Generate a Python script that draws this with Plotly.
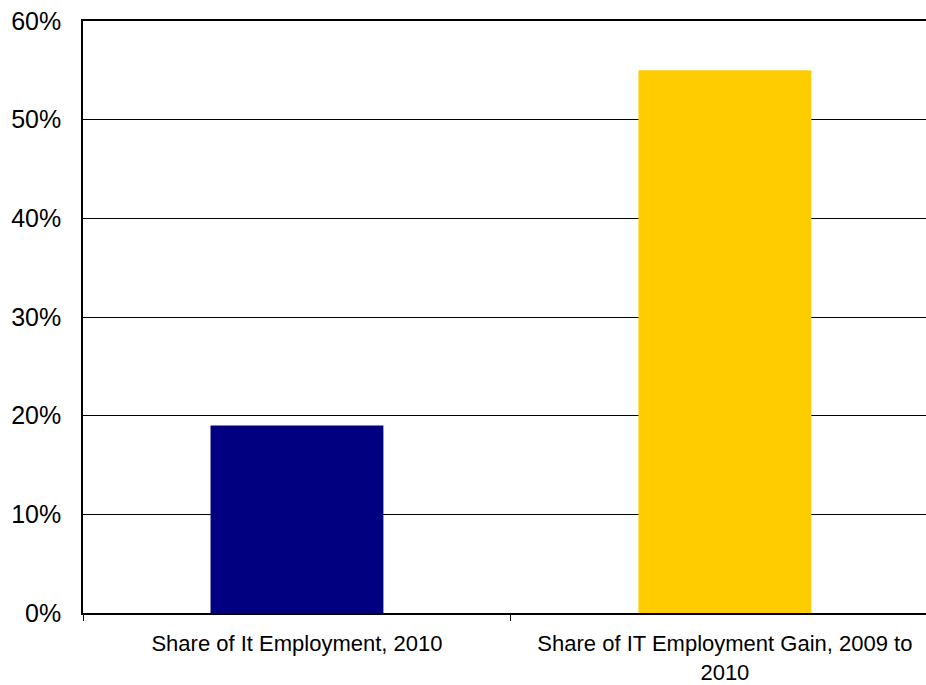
import plotly.graph_objects as go

# Share of IT employment vs. share of IT employment gain
categories = [
    "Share of It Employment, 2010",
    "Share of IT Employment Gain, 2009 to<br>2010",
]
values = [0.19, 0.55]
colors = ["#000080", "#FFCC00"]
y_ticks = [0, 0.1, 0.2, 0.3, 0.4, 0.5, 0.6]

fig = go.Figure(
    go.Bar(
        x=categories,
        y=values,
        marker=dict(color=colors, line=dict(width=0)),
        width=0.404,
        hoverinfo="skip",
    )
)

fig.update_layout(
    width=926,
    height=685,
    margin=dict(l=83, r=0, t=21, b=72),
    paper_bgcolor="white",
    plot_bgcolor="white",
    showlegend=False,
    font=dict(family="Liberation Sans, Arial, sans-serif", color="black"),
)

fig.update_xaxes(
    range=[-0.5, 1.47],
    automargin=False,
    showline=True,
    mirror=True,
    linecolor="black",
    linewidth=1.5,
    ticks="outside",
    tickson="boundaries",
    ticklen=6,
    tickcolor="black",
    tickfont=dict(size=22),
    ticklabelstandoff=10,
    showgrid=False,
    fixedrange=True,
)

fig.update_yaxes(
    range=[0, 0.6],
    automargin=False,
    tickvals=y_ticks,
    tickformat=".0%",
    showline=True,
    linecolor="black",
    linewidth=1.5,
    showgrid=True,
    gridcolor="black",
    gridwidth=1,
    zeroline=False,
    ticks="",
    ticklabelstandoff=15,
    tickfont=dict(size=25),
    fixedrange=True,
)

fig.write_html("out.html")
